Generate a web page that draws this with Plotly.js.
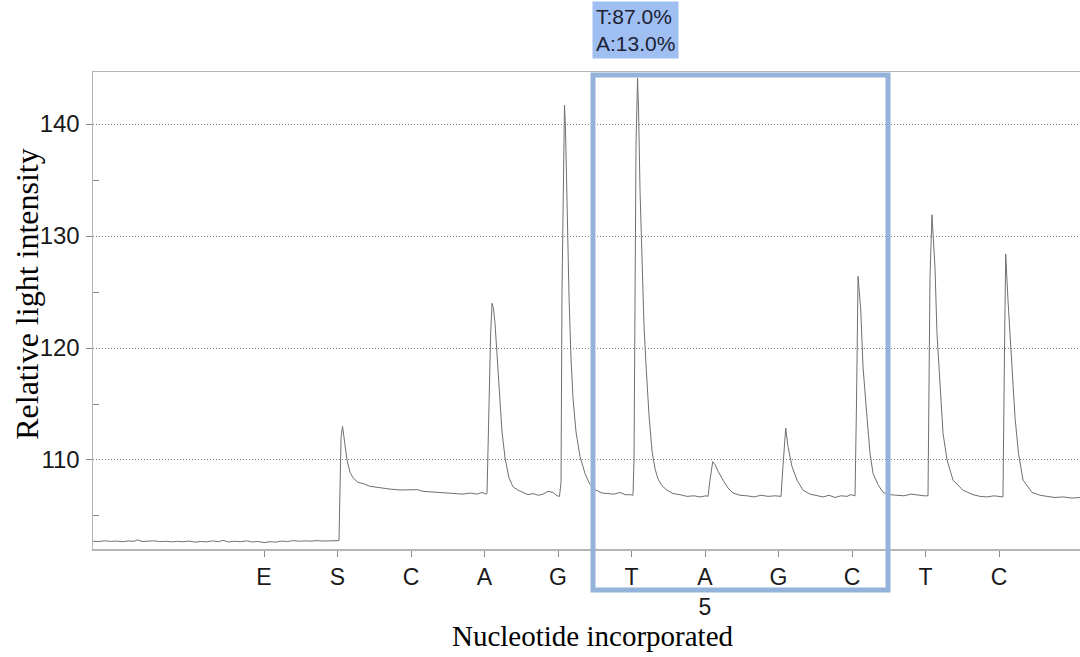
<!DOCTYPE html>
<html>
<head>
<meta charset="utf-8">
<script src="https://cdn.plot.ly/plotly-3.0.1.min.js"></script>
<style>html,body{margin:0;padding:0;background:#fff;}#chart{width:1080px;height:657px;}</style>
</head>
<body>
<div id="chart"></div>
<script>
// Dispensation order (x positions 1..11)
const dispensations = ['E','S','C','A','G','T','A','G','C','T','C'];
const dispensationPos = [1,2,3,4,5,6,7,8,9,10,11];
// Sequence position number shown under the highlighted dispensation
const positionLabelIndex = 6;   // 7th dispensation (A)
const positionLabel = '5';
// Allele frequencies for the highlighted variable position
const alleles = ['T','A'];
const allelePct = [87.0, 13.0];
// Highlighted region (in dispensation units)
const regionStart = 5.476, regionEnd = 9.49;

// Pyrogram trace: time (dispensation units) and relative light intensity
const timeX = [
 -1.327,-1.25,-1.17,-1.09,-1.01,-0.93,-0.85,-0.77,-0.72,-0.66,-0.58,-0.50,-0.42,-0.34,-0.26,-0.18,-0.10,-0.02,
 0.06,0.14,0.22,0.30,0.38,0.44,0.52,0.60,0.68,0.76,0.84,0.92,1.00,1.08,1.16,1.24,1.32,1.40,1.48,1.56,1.64,1.72,1.80,1.88,1.96,2.02,
 2.034,2.048,2.068,2.102,2.129,2.170,2.211,2.279,2.347,2.442,2.578,2.714,2.850,2.986,3.082,3.163,3.259,3.395,3.490,3.599,3.707,3.803,3.898,3.966,4.020,
 4.034,4.061,4.082,4.102,4.122,4.143,4.184,4.238,4.279,4.333,4.388,4.456,4.524,4.592,4.660,4.728,4.796,4.864,4.932,4.986,5.020,
 5.041,5.054,5.075,5.088,5.102,5.122,5.150,5.177,5.204,5.245,5.299,5.367,5.435,5.517,5.599,5.680,5.762,5.844,5.912,5.980,6.020,
 6.034,6.048,6.061,6.082,6.095,6.116,6.143,6.170,6.197,6.238,6.279,6.320,6.361,6.415,6.483,6.565,6.660,6.755,6.850,6.932,7.014,7.041,
 7.068,7.105,7.136,7.177,7.245,7.313,7.381,7.476,7.571,7.667,7.762,7.857,7.952,8.034,
 8.061,8.098,8.129,8.184,8.252,8.333,8.429,8.524,8.605,8.687,8.769,8.850,8.932,8.986,9.041,
 9.061,9.082,9.119,9.150,9.204,9.245,9.286,9.354,9.422,9.517,9.612,9.707,9.803,9.898,9.980,10.034,
 10.061,10.088,10.129,10.156,10.197,10.238,10.293,10.374,10.510,10.646,10.741,10.837,10.932,11.014,11.054,
 11.075,11.091,11.122,11.177,11.218,11.265,11.327,11.449,11.558,11.653,11.762,11.871,11.993,12.102
];
const intensity = [
 102.74,102.72,102.78,102.73,102.76,102.70,102.77,102.74,102.86,102.72,102.75,102.78,102.71,102.74,102.69,102.73,102.70,102.76,
 102.66,102.72,102.69,102.78,102.70,102.82,102.68,102.74,102.70,102.78,102.68,102.72,102.62,102.70,102.66,102.76,102.72,102.80,102.74,102.78,102.75,102.80,102.76,102.79,102.78,102.80,
 107.5,112.0,113.0,111.5,110.0,108.9,108.4,108.0,107.9,107.65,107.5,107.4,107.32,107.3,107.35,107.2,107.15,107.1,107.05,107.0,106.95,107.05,106.95,107.1,106.95,
 107.0,115.0,121.0,124.0,123.5,122.2,117.5,112.5,110.2,108.4,107.6,107.3,107.1,106.9,107.0,106.85,106.95,107.2,107.1,106.8,106.75,
 108.0,125.0,137.0,141.7,139.5,133.0,124.5,119.0,115.5,112.5,110.3,108.8,107.8,107.3,107.05,107.0,106.95,107.1,106.9,106.9,106.85,
 110.0,126.0,138.0,144.1,141.5,134.0,127.0,122.0,118.5,114.0,110.8,109.2,108.3,107.7,107.3,107.0,106.9,106.75,106.8,106.7,106.8,106.75,
 108.2,109.85,109.6,109.0,108.2,107.5,107.05,106.85,106.8,106.7,106.85,106.75,106.8,106.75,
 109.5,112.85,111.2,109.4,108.2,107.3,106.95,106.8,106.7,106.85,106.65,106.8,106.75,106.9,106.8,
 115.0,126.4,123.4,118.3,113.8,110.6,108.8,107.8,107.1,106.9,106.85,106.8,106.95,106.85,106.8,106.8,
 126.3,131.9,127.2,121.3,116.5,112.4,110.0,108.2,107.3,106.9,106.75,106.7,106.8,106.7,106.7,
 120.0,128.4,124.3,118.3,113.8,110.6,108.2,107.1,106.85,106.75,106.65,106.7,106.6,106.65
];

const tickText = dispensations.map((d, i) => i === positionLabelIndex ? d + '<br>' + positionLabel : d);
const alleleText = alleles.map((a, i) => a + ':' + allelePct[i].toFixed(1) + '%').join('<br>');

const trace = {
  x: timeX, y: intensity, type: 'scatter', mode: 'lines',
  line: {color: '#707070', width: 1}, hoverinfo: 'skip', showlegend: false
};

const layout = {
  width: 1080, height: 657,
  margin: {l: 93, r: 0, t: 72, b: 108},
  paper_bgcolor: '#ffffff', plot_bgcolor: '#ffffff',
  font: {family: '"Liberation Sans", Arial, sans-serif', color: '#1a1a1a', size: 23},
  xaxis: {
    range: [-1.327, 12.102], tickmode: 'array', tickvals: dispensationPos, ticktext: tickText,
    showgrid: false, zeroline: false, showline: true, mirror: true, linecolor: '#b4b4b4', linewidth: 1.5,
    ticks: 'outside', ticklen: 6, tickcolor: '#8a8a8a', tickwidth: 1, ticklabelstandoff: 1,
    tickfont: {size: 23, color: '#1a1a1a'}
  },
  yaxis: {
    range: [102.05, 144.65], tickmode: 'array', tickvals: [110,120,130,140],
    showgrid: true, gridcolor: '#7a7a7a', griddash: '1px,2px', gridwidth: 1,
    zeroline: false, showline: true, mirror: true, linecolor: '#b4b4b4', linewidth: 1.5,
    ticks: 'outside', ticklen: 6, tickcolor: '#8a8a8a', tickwidth: 1, ticklabelstandoff: 1,
    tickfont: {size: 24, color: '#1a1a1a'},
    minor: {tickvals: [105,115,125,135], ticks: 'inside', ticklen: 6, tickcolor: '#8a8a8a', showgrid: false}
  },
  shapes: [{
    type: 'rect', xref: 'x', yref: 'paper', x0: regionStart, x1: regionEnd, y0: -0.086, y1: 0.9937,
    line: {color: '#94b3da', width: 5}, fillcolor: 'rgba(0,0,0,0)', layer: 'above'
  }],
  annotations: [
    {xref: 'x', yref: 'paper', x: 6.06, y: 1.088, text: alleleText, showarrow: false,
     font: {size: 21, color: '#1c2233', family: '"Liberation Sans", Arial, sans-serif'},
     bgcolor: '#9fbff3', borderpad: 3, align: 'left', xanchor: 'center', yanchor: 'middle'},
    {xref: 'paper', yref: 'paper', x: 0.5066, y: -0.182, text: 'Nucleotide incorporated', showarrow: false,
     font: {size: 29, color: '#000', family: '"Liberation Serif", "Times New Roman", serif'},
     xanchor: 'center', yanchor: 'middle'},
    {xref: 'paper', yref: 'paper', x: -0.0669, y: 0.535, text: 'Relative light intensity', showarrow: false, textangle: -90,
     font: {size: 32, color: '#000', family: '"Liberation Serif", "Times New Roman", serif'},
     xanchor: 'center', yanchor: 'middle'}
  ]
};

Plotly.newPlot('chart', [trace], layout, {staticPlot: true, displayModeBar: false});
</script>
</body>
</html>
